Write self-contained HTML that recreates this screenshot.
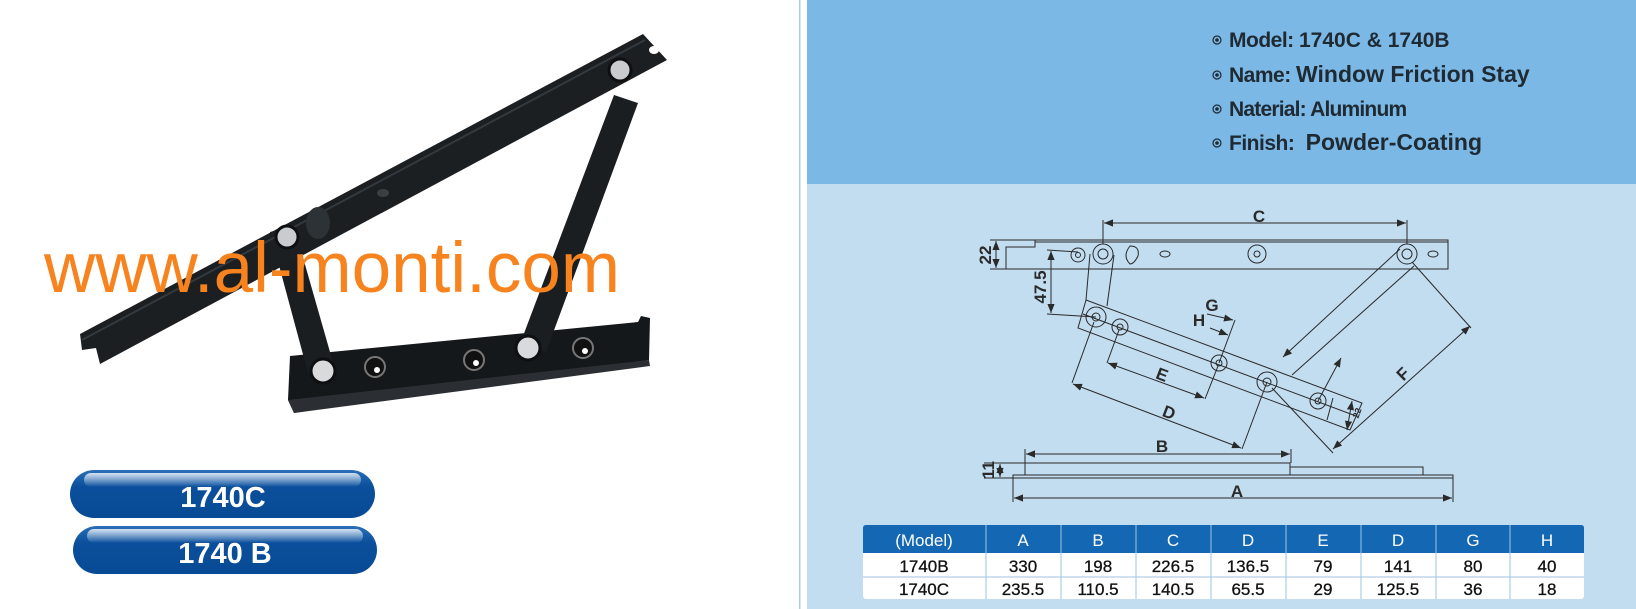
<!DOCTYPE html>
<html><head><meta charset="utf-8"><style>
html,body{margin:0;padding:0;width:1636px;height:609px;overflow:hidden;background:#fff}
svg{display:block}
text{font-family:"Liberation Sans",Arial,sans-serif}
</style></head><body>
<svg width="1636" height="609" viewBox="0 0 1636 609" xmlns="http://www.w3.org/2000/svg">
<defs>
<marker id="ar" viewBox="0 0 10 10" refX="10" refY="5" markerWidth="9" markerHeight="9" orient="auto-start-reverse" markerUnits="userSpaceOnUse"><path d="M0,1 L10,5 L0,9 z" fill="#2a2a2a"/></marker>
<linearGradient id="pg" x1="0" y1="0" x2="0" y2="1"><stop offset="0" stop-color="#2a6fb8"/><stop offset="0.35" stop-color="#0b4f9c"/><stop offset="1" stop-color="#084a94"/></linearGradient>
<linearGradient id="hl" x1="0" y1="0" x2="0" y2="1"><stop offset="0" stop-color="#fff" stop-opacity="0.8"/><stop offset="1" stop-color="#fff" stop-opacity="0"/></linearGradient>
</defs>
<rect x="799" y="0" width="1.5" height="609" fill="#a9cde9"/>
<rect x="807" y="0" width="829" height="184" fill="#7bb8e5"/>
<rect x="807" y="184" width="829" height="425" fill="#c2dcf0"/>

<g>
<polygon points="290,356 638,322 641,316 650,318 649,360 294,413 288,400" fill="#15181b"/>
<polygon points="288,400 649,360 650,366 294,413" fill="#2b2f33"/>
<polygon points="270,232 294,226 334,366 308,373" fill="#1b1e21"/>
<polygon points="614,95 638,103 546,352 520,344" fill="#1b1e21"/>
<polygon points="80,334 643,34 667,60 100,364 96,348 82,350" fill="#1c1f22"/>
<line x1="82" y1="340" x2="645" y2="40" stroke="#34393e" stroke-width="2"/>
<circle cx="287" cy="237" r="11" fill="#c9ccce" stroke="#0d0f10" stroke-width="3"/>
<circle cx="620" cy="70" r="11" fill="#c9ccce" stroke="#0d0f10" stroke-width="3"/>
<ellipse cx="318" cy="223" rx="12" ry="16" fill="#2d3236"/>
<ellipse cx="383" cy="193" rx="6" ry="4" fill="#3a3f44"/>
<circle cx="323" cy="371" r="12" fill="#d9dadb" stroke="#0d0f10" stroke-width="3"/>
<circle cx="528" cy="348" r="12" fill="#d9dadb" stroke="#0d0f10" stroke-width="3"/>
<circle cx="375" cy="367" r="10" fill="#111" stroke="#777" stroke-width="2"/><circle cx="377" cy="370" r="3" fill="#fff"/>
<circle cx="474" cy="360" r="10" fill="#111" stroke="#777" stroke-width="2"/><circle cx="476" cy="363" r="3" fill="#fff"/>
<circle cx="583" cy="348" r="10" fill="#111" stroke="#777" stroke-width="2"/><circle cx="585" cy="351" r="3" fill="#fff"/>
<ellipse cx="654" cy="50" rx="5" ry="4" fill="#fff"/>
</g>
<text x="44" y="292" font-size="71" fill="#f7831f">www.al-monti.com</text>

<rect x="70" y="470" width="305" height="48" rx="24" fill="url(#pg)"/>
<rect x="84" y="473" width="277" height="14" rx="7" fill="url(#hl)"/>
<text x="223" y="507" font-size="29" font-weight="bold" fill="#fff" text-anchor="middle">1740C</text>
<rect x="73" y="526" width="304" height="48" rx="24" fill="url(#pg)"/>
<rect x="87" y="529" width="276" height="14" rx="7" fill="url(#hl)"/>
<text x="225" y="563" font-size="29" font-weight="bold" fill="#fff" text-anchor="middle">1740 B</text>

<g fill="#1f2a33" font-size="21" font-weight="bold">
<g fill="none" stroke="#1f2a33" stroke-width="1.2"><circle cx="1217" cy="40" r="4"/><circle cx="1217" cy="75" r="4"/><circle cx="1217" cy="109" r="4"/><circle cx="1217" cy="143" r="4"/></g>
<g fill="#1f2a33"><circle cx="1217" cy="40" r="1.8"/><circle cx="1217" cy="75" r="1.8"/><circle cx="1217" cy="109" r="1.8"/><circle cx="1217" cy="143" r="1.8"/></g>
<text x="1229" y="47" letter-spacing="-0.5">Model: <tspan letter-spacing="0">1740C &amp; 1740B</tspan></text>
<text x="1229" y="82" letter-spacing="-0.5">Name: <tspan font-size="23" letter-spacing="0">Window Friction Stay</tspan></text>
<text x="1229" y="116" letter-spacing="-0.8">Naterial: Aluminum</text>
<text x="1229" y="150" letter-spacing="-0.5">Finish:  <tspan font-size="23" dx="6" letter-spacing="0">Powder-Coating</tspan></text>
</g>

<g fill="none" stroke="#2a2a2a" stroke-width="1">
<polyline points="1006,269 1448,269 1448,240 1035,240 1035,247 1006,247 1006,269"/>
<line x1="1035" y1="242" x2="1448" y2="242"/>
<circle cx="1078" cy="255" r="7"/><circle cx="1078" cy="255" r="2.5"/>
<circle cx="1103" cy="254" r="10"/><circle cx="1103" cy="254" r="5"/>
<path d="M1130,246 Q1140,246 1138,256 Q1134,264 1130,264 Q1122,256 1130,246 z"/>
<ellipse cx="1165" cy="254" rx="5" ry="3"/>
<circle cx="1257" cy="254" r="9"/><circle cx="1257" cy="254" r="3"/>
<circle cx="1407" cy="254" r="10"/><circle cx="1407" cy="254" r="5"/>
<ellipse cx="1433" cy="254" rx="5" ry="3"/>
<line x1="1103" y1="244" x2="1103" y2="220"/><line x1="1407" y1="244" x2="1407" y2="220"/>
<line x1="1104" y1="223" x2="1406" y2="223" marker-start="url(#ar)" marker-end="url(#ar)"/>
<line x1="990" y1="240" x2="1035" y2="240"/><line x1="990" y1="269" x2="1006" y2="269"/>
<line x1="996" y1="241" x2="996" y2="268" marker-start="url(#ar)" marker-end="url(#ar)"/>
<line x1="1047" y1="250" x2="1078" y2="252"/><line x1="1047" y1="314" x2="1096" y2="317"/>
<line x1="1051" y1="251" x2="1051" y2="313" marker-start="url(#ar)" marker-end="url(#ar)"/>
<line x1="1090" y1="254" x2="1086" y2="300"/><line x1="1114" y1="255" x2="1107" y2="306"/>
<polygon points="1086,300 1362,403 1350,430 1078,328"/>
<line x1="1083" y1="314" x2="1356" y2="416"/>
<circle cx="1096" cy="317" r="10"/><circle cx="1096" cy="317" r="4"/>
<circle cx="1120" cy="327" r="8"/><circle cx="1120" cy="327" r="3"/>
<circle cx="1219" cy="363" r="8"/><circle cx="1219" cy="363" r="3"/>
<circle cx="1267" cy="382" r="10"/><circle cx="1267" cy="382" r="4"/>
<circle cx="1318" cy="401" r="8"/><circle cx="1318" cy="401" r="3"/>
<line x1="1333" y1="398" x2="1327" y2="420"/>
<line x1="1400" y1="249" x2="1283" y2="357" marker-end="url(#ar)"/>
<line x1="1414" y1="266" x2="1292" y2="375"/>
<line x1="1412" y1="262" x2="1471" y2="328"/><line x1="1272" y1="388" x2="1333" y2="453"/>
<line x1="1470" y1="326" x2="1333" y2="449" marker-start="url(#ar)" marker-end="url(#ar)"/>
<line x1="1094" y1="322" x2="1072" y2="383"/><line x1="1267" y1="382" x2="1242" y2="449"/>
<line x1="1073" y1="384" x2="1241" y2="448" marker-start="url(#ar)" marker-end="url(#ar)"/>
<line x1="1119" y1="330" x2="1107" y2="363"/><line x1="1218" y1="366" x2="1205" y2="399"/>
<line x1="1108" y1="363" x2="1204" y2="398" marker-start="url(#ar)" marker-end="url(#ar)"/>
<line x1="1219" y1="363" x2="1235" y2="320"/>
<line x1="1207" y1="314" x2="1233" y2="320" marker-end="url(#ar)"/>
<line x1="1210" y1="328" x2="1228" y2="335" marker-end="url(#ar)"/>
<line x1="1318" y1="401" x2="1341" y2="358" marker-end="url(#ar)"/>
<line x1="1352" y1="401" x2="1347" y2="430" marker-start="url(#ar)" marker-end="url(#ar)"/>
<rect x="1025" y="463" width="265" height="12"/>
<rect x="1290" y="467" width="133" height="8"/>
<rect x="1013" y="475" width="440" height="3"/>
<line x1="1025" y1="449" x2="1025" y2="463"/><line x1="1291" y1="449" x2="1291" y2="463"/>
<line x1="1026" y1="454" x2="1290" y2="454" marker-start="url(#ar)" marker-end="url(#ar)"/>
<line x1="984" y1="463" x2="1025" y2="463"/><line x1="984" y1="478" x2="1013" y2="478"/>
<line x1="1000" y1="464" x2="1000" y2="477" marker-start="url(#ar)" marker-end="url(#ar)"/>
<line x1="1013" y1="478" x2="1013" y2="502"/><line x1="1453" y1="478" x2="1453" y2="502"/>
<line x1="1014" y1="498" x2="1452" y2="498" marker-start="url(#ar)" marker-end="url(#ar)"/>
</g>
<g fill="#2a2a2a" font-size="17" font-weight="bold">
<text x="1259" y="222" text-anchor="middle">C</text>
<text transform="translate(991,255) rotate(-90)" text-anchor="middle">22</text>
<text transform="translate(1046,287) rotate(-90)" text-anchor="middle">47.5</text>
<text x="1212" y="311" text-anchor="middle">G</text>
<text x="1199" y="326" text-anchor="middle">H</text>
<text transform="translate(1160,380) rotate(21)" text-anchor="middle">E</text>
<text transform="translate(1167,418) rotate(21)" text-anchor="middle">D</text>
<text transform="translate(1407,378) rotate(-45)" text-anchor="middle">F</text>
<text x="1162" y="452" text-anchor="middle">B</text>
<text transform="translate(994,470) rotate(-90)" text-anchor="middle">11</text>
<text x="1237" y="497" text-anchor="middle">A</text>
<text transform="translate(1360,414) rotate(-70)" font-size="9" text-anchor="middle">22</text>
</g>

<g>
<rect x="863" y="525" width="721" height="74" rx="3" fill="#fff"/>
<path d="M863,553 L863,528 Q863,525 866,525 L1581,525 Q1584,525 1584,528 L1584,553 z" fill="#1467b3"/>
<g stroke="#9fc3e3" stroke-width="1">
<line x1="863" y1="577" x2="1584" y2="577"/>
<line x1="986" y1="525" x2="986" y2="599"/><line x1="1061" y1="525" x2="1061" y2="599"/>
<line x1="1136" y1="525" x2="1136" y2="599"/><line x1="1211" y1="525" x2="1211" y2="599"/>
<line x1="1286" y1="525" x2="1286" y2="599"/><line x1="1361" y1="525" x2="1361" y2="599"/>
<line x1="1436" y1="525" x2="1436" y2="599"/><line x1="1510" y1="525" x2="1510" y2="599"/>
</g>
<g font-size="17" fill="#fff" text-anchor="middle">
<text x="924" y="546">(Model)</text><text x="1023" y="546">A</text><text x="1098" y="546">B</text><text x="1173" y="546">C</text><text x="1248" y="546">D</text><text x="1323" y="546">E</text><text x="1398" y="546">D</text><text x="1473" y="546">G</text><text x="1547" y="546">H</text>
</g>
<g font-size="17" fill="#111" text-anchor="middle" stroke="#111" stroke-width="0.3">
<text x="924" y="572">1740B</text><text x="1023" y="572">330</text><text x="1098" y="572">198</text><text x="1173" y="572">226.5</text><text x="1248" y="572">136.5</text><text x="1323" y="572">79</text><text x="1398" y="572">141</text><text x="1473" y="572">80</text><text x="1547" y="572">40</text>
<text x="924" y="595">1740C</text><text x="1023" y="595">235.5</text><text x="1098" y="595">110.5</text><text x="1173" y="595">140.5</text><text x="1248" y="595">65.5</text><text x="1323" y="595">29</text><text x="1398" y="595">125.5</text><text x="1473" y="595">36</text><text x="1547" y="595">18</text>
</g>
</g>
</svg>
</body></html>
